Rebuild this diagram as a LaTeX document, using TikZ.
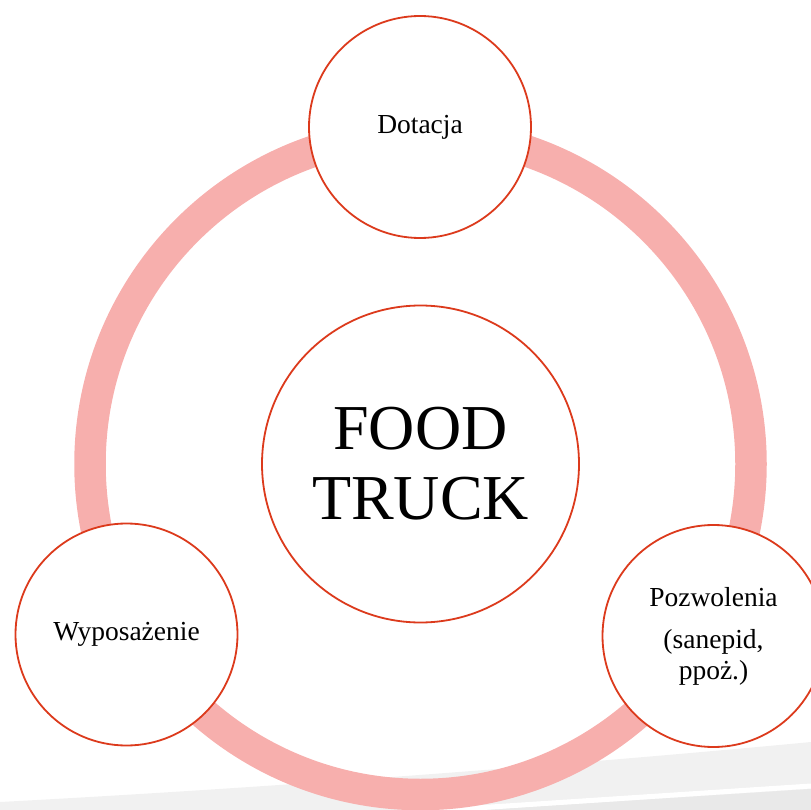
\documentclass[tikz,border=0pt]{standalone}
\usepackage{fontspec}
\setmainfont{Liberation Serif}
\definecolor{ringpink}{HTML}{F7AFAD}
\definecolor{edgered}{HTML}{DC3A1C}
\definecolor{bandA}{HTML}{F1F1F1}
\definecolor{bandB}{HTML}{E9E9E9}
\begin{document}
\begin{tikzpicture}[x=1pt,y=-1pt,
  bubble/.style={circle,draw=edgered,line width=1.8pt,fill=white,inner sep=0pt,align=center,text=black},
  small/.style={bubble,minimum size=222pt,font=\fontsize{27.5}{31}\selectfont},
  big/.style={bubble,minimum size=317pt,font=\fontsize{64}{70}\selectfont}]
\useasboundingbox (0,0) rectangle (811,810);
\clip (0,0) rectangle (811,810);
% background bands
\fill[bandA] (0,802) .. controls (300,786) and (600,762) .. (811,742) -- (811,812) -- (0,812) -- cycle;
\fill[bandB] (450,812) -- (811,789) -- (811,812) -- cycle;
\draw[white,line width=5pt] (430,811) -- (811,786);
% ring
\coordinate (rc) at (420.5,464);
\draw[ringpink,line width=31.5pt] (rc) circle (330.5);
% nodes
\node[big] (core) at (420.5,464) {FOOD\\TRUCK};
\node[small] (top) at (420,127) {Dotacja};
\node[small] (left) at (126.5,634.5) {Wyposażenie};
\node[small] (right) at (713.5,636) {Pozwolenia\\[11pt]\fontsize{27.5}{26}\selectfont(sanepid,\\ppoż.)};
\end{tikzpicture}
\end{document}
